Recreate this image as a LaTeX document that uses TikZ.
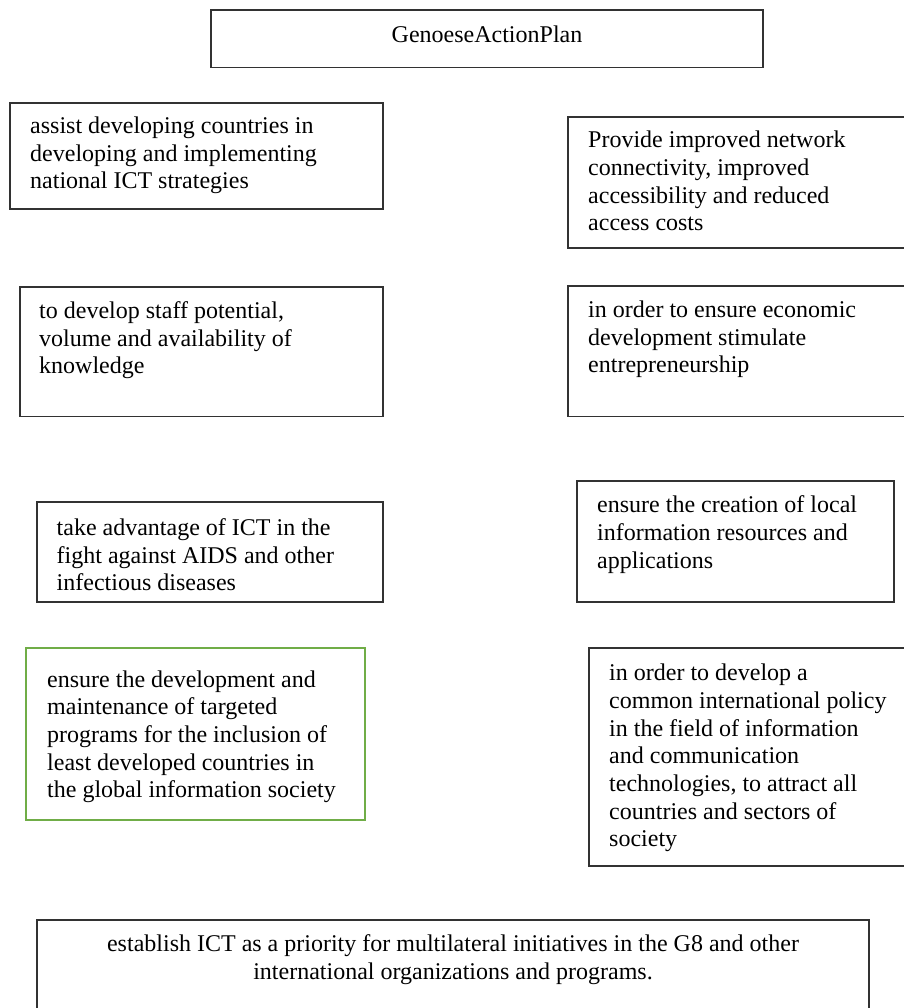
\documentclass[tikz,border=0pt]{standalone}
\usepackage{fontspec}
\setmainfont{Liberation Serif}
\definecolor{framegray}{RGB}{50,50,50}
\definecolor{officegreen}{RGB}{112,173,71}
% text nodes are placed by the baseline of their last line
\tikzset{
  frame/.style={draw=framegray, line width=1.2pt},
  greenframe/.style={draw=officegreen, line width=2.2pt},
  txt/.style={inner sep=0pt, align=left, anchor=base west,
    font=\fontsize{24}{27.7}\selectfont, text=black},
  ctxt/.style={inner sep=0pt, align=center, anchor=base,
    font=\fontsize{24}{27.7}\selectfont, text=black}
}
\begin{document}
\begin{tikzpicture}[x=1pt, y=-1pt]
  \useasboundingbox[fill=white] (0,0) rectangle (903,1008);

  % title
  \draw[frame] (211,10) rectangle (763,67.7);
  \node[ctxt] (title) at (487,42.7) {GenoeseActionPlan};

  % left column
  \draw[frame] (10,103) rectangle (383,209);
  \node[txt] (assist) at (30,188.9)
    {assist developing countries in\\developing and implementing\\national ICT strategies};

  \draw[frame] (20,287) rectangle (383,416.5);
  \node[txt] (staff) at (39,373.9)
    {to develop staff potential,\\volume and availability of\\knowledge};

  \draw[frame] (37,502) rectangle (383,602);
  \node[txt] (aids) at (56.5,590.8)
    {take advantage of ICT in the\\fight against AIDS and other\\infectious diseases};

  \draw[greenframe] (26,648) rectangle (365,820);
  \node[txt] (ldc) at (47,797.8)
    {ensure the development and\\maintenance of targeted\\programs for the inclusion of\\least developed countries in\\the global information society};

  % right column
  \draw[frame] (568,117) rectangle (910,248);
  \node[txt] (network) at (588,230.8)
    {Provide improved network\\connectivity, improved\\accessibility and reduced\\access costs};

  \draw[frame] (568,286) rectangle (910,416.5);
  \node[txt] (economy) at (588,372.9)
    {in order to ensure economic\\development stimulate\\entrepreneurship};

  \draw[frame] (577,481) rectangle (894,602);
  \node[txt] (local) at (597,568.1)
    {ensure the creation of local\\information resources and\\applications};

  \draw[frame] (589,648) rectangle (910,866);
  \node[txt] (policy) at (609,846.9)
    {in order to develop a\\common international policy\\in the field of information\\and communication\\technologies, to attract all\\countries and sectors of\\society};

  % bottom
  \draw[frame] (37,920) rectangle (869,1030);
  \node[ctxt] (gate) at (453,979.4)
    {establish ICT as a priority for multilateral initiatives in the G8 and other\\international organizations and programs.};
\end{tikzpicture}
\end{document}
